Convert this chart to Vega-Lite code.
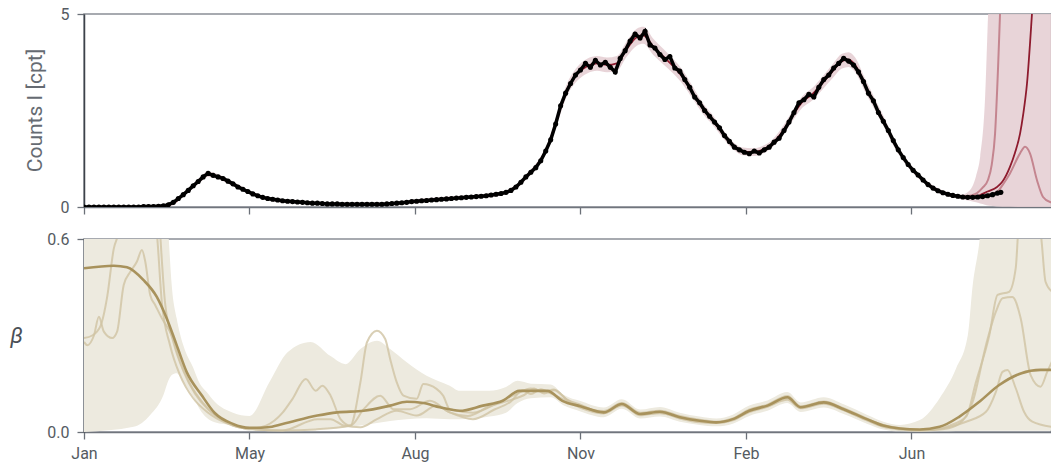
{
  "$schema": "https://vega.github.io/schema/vega-lite/v6.json",
  "background": "white",
  "padding": {"left": 8, "top": 5, "right": 0, "bottom": 5},
  "spacing": 14,
  "config": {
    "view": {"stroke": "#8a8f96", "strokeWidth": 1.5},
    "font": "Roboto",
    "axis": {
      "labelFont": "Roboto", "labelFontSize": 16, "labelColor": "#555b62",
      "titleFont": "Roboto", "titleFontSize": 21, "titleColor": "#666b72", "titleFontWeight": "normal",
      "tickColor": "#6b7078", "tickSize": 7, "tickWidth": 1.3, "labelPadding": 8,
      "domainColor": "#70757d", "domainWidth": 1.5, "grid": false
    }
  },
  "datasets": {
    "pts": [
      {"d":0,"c":0},{"d":3,"c":0},{"d":6,"c":0},{"d":9,"c":0},{"d":12,"c":0},{"d":15,"c":0},{"d":18,"c":0},{"d":21,"c":0},{"d":24,"c":0},{"d":27,"c":0},{"d":30,"c":0},{"d":33,"c":0},{"d":36,"c":0.01},{"d":39,"c":0.01},{"d":42,"c":0.01},{"d":45,"c":0.02},{"d":48,"c":0.03},{"d":51,"c":0.06},{"d":54,"c":0.12},{"d":57,"c":0.22},{"d":60,"c":0.32},{"d":63,"c":0.43},{"d":66,"c":0.55},{"d":69,"c":0.66},{"d":72,"c":0.78},{"d":75,"c":0.87},{"d":78,"c":0.82},{"d":81,"c":0.78},{"d":84,"c":0.74},{"d":87,"c":0.67},{"d":90,"c":0.6},{"d":93,"c":0.52},{"d":96,"c":0.46},{"d":99,"c":0.4},{"d":102,"c":0.34},{"d":105,"c":0.29},{"d":108,"c":0.25},{"d":111,"c":0.22},{"d":114,"c":0.2},{"d":117,"c":0.18},{"d":120,"c":0.16},{"d":123,"c":0.15},{"d":126,"c":0.14},{"d":129,"c":0.13},{"d":132,"c":0.12},{"d":135,"c":0.11},{"d":138,"c":0.1},{"d":141,"c":0.1},{"d":144,"c":0.09},{"d":147,"c":0.08},{"d":150,"c":0.08},{"d":153,"c":0.08},{"d":156,"c":0.07},{"d":159,"c":0.07},{"d":162,"c":0.07},{"d":165,"c":0.07},{"d":168,"c":0.07},{"d":171,"c":0.07},{"d":174,"c":0.07},{"d":177,"c":0.07},{"d":180,"c":0.07},{"d":183,"c":0.08},{"d":186,"c":0.09},{"d":189,"c":0.1},{"d":192,"c":0.11},{"d":195,"c":0.12},{"d":198,"c":0.14},{"d":201,"c":0.15},{"d":204,"c":0.16},{"d":207,"c":0.17},{"d":210,"c":0.18},{"d":213,"c":0.19},{"d":216,"c":0.2},{"d":219,"c":0.21},{"d":222,"c":0.22},{"d":225,"c":0.23},{"d":228,"c":0.24},{"d":231,"c":0.25},{"d":234,"c":0.26},{"d":237,"c":0.27},{"d":240,"c":0.28},{"d":243,"c":0.29},{"d":246,"c":0.31},{"d":249,"c":0.33},{"d":252,"c":0.35},{"d":255,"c":0.38},{"d":258,"c":0.43},{"d":261,"c":0.52},{"d":264,"c":0.64},{"d":267,"c":0.78},{"d":270,"c":0.9},{"d":273,"c":1.02},{"d":276,"c":1.2},{"d":279,"c":1.45},{"d":282,"c":1.74},{"d":285,"c":2.15},{"d":288,"c":2.62},{"d":291,"c":2.95},{"d":294,"c":3.2},{"d":297,"c":3.42},{"d":300,"c":3.55},{"d":303,"c":3.72},{"d":306,"c":3.62},{"d":309,"c":3.8},{"d":312,"c":3.68},{"d":315,"c":3.75},{"d":318,"c":3.62},{"d":321,"c":3.5},{"d":324,"c":3.85},{"d":327,"c":4.05},{"d":330,"c":4.3},{"d":333,"c":4.48},{"d":336,"c":4.38},{"d":339,"c":4.55},{"d":342,"c":4.2},{"d":345,"c":4.12},{"d":348,"c":3.95},{"d":351,"c":3.82},{"d":354,"c":3.9},{"d":357,"c":3.6},{"d":360,"c":3.52},{"d":363,"c":3.3},{"d":366,"c":3.1},{"d":369,"c":2.85},{"d":372,"c":2.7},{"d":375,"c":2.5},{"d":378,"c":2.35},{"d":381,"c":2.2},{"d":384,"c":2.05},{"d":387,"c":1.85},{"d":390,"c":1.7},{"d":393,"c":1.55},{"d":396,"c":1.48},{"d":399,"c":1.42},{"d":402,"c":1.38},{"d":405,"c":1.45},{"d":408,"c":1.4},{"d":411,"c":1.48},{"d":414,"c":1.55},{"d":417,"c":1.68},{"d":420,"c":1.78},{"d":423,"c":1.98},{"d":426,"c":2.2},{"d":429,"c":2.45},{"d":432,"c":2.7},{"d":435,"c":2.78},{"d":438,"c":2.92},{"d":441,"c":2.85},{"d":444,"c":3.1},{"d":447,"c":3.3},{"d":450,"c":3.42},{"d":453,"c":3.6},{"d":456,"c":3.72},{"d":459,"c":3.85},{"d":462,"c":3.78},{"d":465,"c":3.68},{"d":468,"c":3.5},{"d":471,"c":3.25},{"d":474,"c":2.95},{"d":477,"c":2.75},{"d":480,"c":2.45},{"d":483,"c":2.22},{"d":486,"c":1.98},{"d":489,"c":1.72},{"d":492,"c":1.48},{"d":495,"c":1.28},{"d":498,"c":1.1},{"d":501,"c":0.95},{"d":504,"c":0.83},{"d":507,"c":0.7},{"d":510,"c":0.58},{"d":513,"c":0.49},{"d":516,"c":0.42},{"d":519,"c":0.37},{"d":522,"c":0.33},{"d":525,"c":0.3},{"d":528,"c":0.28},{"d":531,"c":0.26},{"d":534,"c":0.25},{"d":537,"c":0.25},{"d":540,"c":0.26},{"d":543,"c":0.27},{"d":546,"c":0.29},{"d":549,"c":0.32},{"d":552,"c":0.36},{"d":554,"c":0.38}
    ],
    "fitband": [
      {"d":0,"lo":0,"hi":0.03},{"d":40,"lo":0,"hi":0.04},{"d":50,"lo":0,"hi":0.08},{"d":55,"lo":0.07,"hi":0.17},{"d":60,"lo":0.27,"hi":0.37},{"d":65,"lo":0.44,"hi":0.56},{"d":70,"lo":0.63,"hi":0.77},{"d":75,"lo":0.78,"hi":0.92},{"d":80,"lo":0.73,"hi":0.87},{"d":90,"lo":0.54,"hi":0.66},{"d":100,"lo":0.33,"hi":0.43},{"d":110,"lo":0.18,"hi":0.28},{"d":120,"lo":0.11,"hi":0.21},{"d":135,"lo":0.07,"hi":0.15},{"d":150,"lo":0.04,"hi":0.12},{"d":170,"lo":0.03,"hi":0.11},{"d":185,"lo":0.04,"hi":0.12},{"d":200,"lo":0.1,"hi":0.2},{"d":220,"lo":0.17,"hi":0.27},{"d":240,"lo":0.23,"hi":0.33},{"d":250,"lo":0.28,"hi":0.38},{"d":256,"lo":0.35,"hi":0.45},{"d":262,"lo":0.49,"hi":0.61},{"d":268,"lo":0.75,"hi":0.89},{"d":274,"lo":1.02,"hi":1.18},{"d":280,"lo":1.45,"hi":1.65},{"d":286,"lo":2.17,"hi":2.43},{"d":292,"lo":2.89,"hi":3.21},{"d":298,"lo":3.27,"hi":3.63},{"d":304,"lo":3.46,"hi":3.84},{"d":310,"lo":3.53,"hi":3.91},{"d":316,"lo":3.49,"hi":3.87},{"d":322,"lo":3.53,"hi":3.91},{"d":328,"lo":3.9,"hi":4.3},{"d":334,"lo":4.18,"hi":4.62},{"d":338,"lo":4.23,"hi":4.67},{"d":344,"lo":3.94,"hi":4.36},{"d":350,"lo":3.7,"hi":4.1},{"d":356,"lo":3.46,"hi":3.84},{"d":362,"lo":3.17,"hi":3.53},{"d":368,"lo":2.79,"hi":3.11},{"d":374,"lo":2.41,"hi":2.69},{"d":380,"lo":2.12,"hi":2.38},{"d":386,"lo":1.79,"hi":2.01},{"d":392,"lo":1.5,"hi":1.7},{"d":398,"lo":1.34,"hi":1.54},{"d":404,"lo":1.32,"hi":1.52},{"d":410,"lo":1.38,"hi":1.58},{"d":416,"lo":1.55,"hi":1.75},{"d":422,"lo":1.83,"hi":2.07},{"d":428,"lo":2.22,"hi":2.48},{"d":434,"lo":2.57,"hi":2.87},{"d":440,"lo":2.76,"hi":3.08},{"d":446,"lo":3.03,"hi":3.37},{"d":452,"lo":3.32,"hi":3.68},{"d":458,"lo":3.59,"hi":3.97},{"d":462,"lo":3.63,"hi":4.01},{"d":466,"lo":3.49,"hi":3.87},{"d":472,"lo":2.98,"hi":3.32},{"d":478,"lo":2.5,"hi":2.8},{"d":484,"lo":2.02,"hi":2.28},{"d":490,"lo":1.52,"hi":1.72},{"d":496,"lo":1.13,"hi":1.31},{"d":502,"lo":0.83,"hi":0.97},{"d":508,"lo":0.6,"hi":0.72},{"d":514,"lo":0.41,"hi":0.53},{"d":520,"lo":0.31,"hi":0.41},{"d":526,"lo":0.24,"hi":0.34},{"d":530,"lo":0.2,"hi":0.32},{"d":535,"lo":0.16,"hi":0.42},{"d":539,"lo":0.12,"hi":0.8},{"d":541.5,"lo":0.09,"hi":1.3},{"d":544.4,"lo":0.06,"hi":2.77},{"d":546.2,"lo":0.04,"hi":4.9},{"d":548,"lo":0.03,"hi":7},{"d":555,"lo":0.005,"hi":7},{"d":585,"lo":0,"hi":7}
    ],
    "fitline": [
      {"d":0,"v":0},{"d":40,"v":0.01},{"d":50,"v":0.04},{"d":55,"v":0.12},{"d":60,"v":0.32},{"d":65,"v":0.5},{"d":70,"v":0.7},{"d":75,"v":0.85},{"d":80,"v":0.8},{"d":90,"v":0.6},{"d":100,"v":0.38},{"d":110,"v":0.23},{"d":120,"v":0.16},{"d":135,"v":0.11},{"d":150,"v":0.08},{"d":170,"v":0.07},{"d":185,"v":0.08},{"d":200,"v":0.15},{"d":220,"v":0.22},{"d":240,"v":0.28},{"d":250,"v":0.33},{"d":256,"v":0.4},{"d":262,"v":0.55},{"d":268,"v":0.82},{"d":274,"v":1.1},{"d":280,"v":1.55},{"d":286,"v":2.3},{"d":292,"v":3.05},{"d":298,"v":3.45},{"d":304,"v":3.65},{"d":310,"v":3.72},{"d":316,"v":3.68},{"d":322,"v":3.72},{"d":328,"v":4.1},{"d":334,"v":4.4},{"d":338,"v":4.45},{"d":344,"v":4.15},{"d":350,"v":3.9},{"d":356,"v":3.65},{"d":362,"v":3.35},{"d":368,"v":2.95},{"d":374,"v":2.55},{"d":380,"v":2.25},{"d":386,"v":1.9},{"d":392,"v":1.6},{"d":398,"v":1.44},{"d":404,"v":1.42},{"d":410,"v":1.48},{"d":416,"v":1.65},{"d":422,"v":1.95},{"d":428,"v":2.35},{"d":434,"v":2.72},{"d":440,"v":2.92},{"d":446,"v":3.2},{"d":452,"v":3.5},{"d":458,"v":3.78},{"d":462,"v":3.82},{"d":466,"v":3.68},{"d":472,"v":3.15},{"d":478,"v":2.65},{"d":484,"v":2.15},{"d":490,"v":1.62},{"d":496,"v":1.22},{"d":502,"v":0.9},{"d":508,"v":0.66},{"d":514,"v":0.47},{"d":520,"v":0.36},{"d":526,"v":0.29},{"d":532,"v":0.26},{"d":538,"v":0.26},{"d":541.4,"v":0.31},{"d":546,"v":0.4},{"d":551.7,"v":0.52},{"d":555,"v":0.66},{"d":559.5,"v":1.04},{"d":562.5,"v":1.4},{"d":565.6,"v":1.9},{"d":567.5,"v":2.4},{"d":569.8,"v":3.2},{"d":572.8,"v":5},{"d":575,"v":6.5}
    ],
    "fitsamp": [
      {"s":"a","d":520,"v":0.36},{"s":"a","d":526,"v":0.29},{"s":"a","d":532,"v":0.27},{"s":"a","d":536,"v":0.3},{"s":"a","d":539.6,"v":0.36},{"s":"a","d":543,"v":0.5},{"s":"a","d":546.2,"v":0.7},{"s":"a","d":548.5,"v":1.1},{"s":"a","d":550.5,"v":1.9},{"s":"a","d":552.3,"v":3.6},{"s":"a","d":553.5,"v":5},{"s":"a","d":555,"v":7},
      {"s":"b","d":520,"v":0.36},{"s":"b","d":530,"v":0.27},{"s":"b","d":540,"v":0.27},{"s":"b","d":545,"v":0.3},{"s":"b","d":551.7,"v":0.39},{"s":"b","d":555.5,"v":0.6},{"s":"b","d":559.5,"v":0.87},{"s":"b","d":565.6,"v":1.39},{"s":"b","d":568.6,"v":1.56},{"s":"b","d":571.6,"v":1.39},{"s":"b","d":575.8,"v":0.7},{"s":"b","d":579.5,"v":0.26},{"s":"b","d":583.7,"v":0.13},{"s":"b","d":585,"v":0.12}
    ],
    "bband": [
      {"d":0,"lo":0,"hi":0.9},{"d":30,"lo":0.016,"hi":0.9},{"d":40,"lo":0.053,"hi":0.9},{"d":48,"lo":0.115,"hi":0.9},{"d":51,"lo":0.16,"hi":0.62},{"d":53,"lo":0.177,"hi":0.457},{"d":56,"lo":0.183,"hi":0.354},{"d":60,"lo":0.156,"hi":0.27},{"d":66,"lo":0.11,"hi":0.2},{"d":70,"lo":0.07,"hi":0.15},{"d":74,"lo":0.045,"hi":0.125},{"d":79,"lo":0.03,"hi":0.094},{"d":90,"lo":0.02,"hi":0.06},{"d":100,"lo":0.004,"hi":0.05},{"d":112,"lo":0.003,"hi":0.155},{"d":123,"lo":0.004,"hi":0.248},{"d":137,"lo":0.008,"hi":0.28},{"d":149,"lo":0.011,"hi":0.236},{"d":158,"lo":0.014,"hi":0.211},{"d":167,"lo":0.02,"hi":0.258},{"d":177,"lo":0.028,"hi":0.284},{"d":185,"lo":0.034,"hi":0.258},{"d":195,"lo":0.04,"hi":0.217},{"d":207,"lo":0.043,"hi":0.175},{"d":221,"lo":0.04,"hi":0.144},{"d":227,"lo":0.04,"hi":0.128},{"d":245,"lo":0.048,"hi":0.128},{"d":255,"lo":0.06,"hi":0.14},{"d":262,"lo":0.09,"hi":0.159},{"d":270,"lo":0.105,"hi":0.15},{"d":282,"lo":0.108,"hi":0.148},{"d":290,"lo":0.082,"hi":0.115},{"d":300,"lo":0.064,"hi":0.096},{"d":314,"lo":0.046,"hi":0.076},{"d":325,"lo":0.072,"hi":0.102},{"d":336,"lo":0.042,"hi":0.07},{"d":348,"lo":0.048,"hi":0.078},{"d":360,"lo":0.032,"hi":0.06},{"d":372,"lo":0.022,"hi":0.048},{"d":382,"lo":0.018,"hi":0.042},{"d":392,"lo":0.026,"hi":0.054},{"d":402,"lo":0.05,"hi":0.082},{"d":413,"lo":0.066,"hi":0.098},{"d":425,"lo":0.09,"hi":0.124},{"d":433,"lo":0.062,"hi":0.092},{"d":447,"lo":0.076,"hi":0.108},{"d":459,"lo":0.056,"hi":0.086},{"d":473,"lo":0.026,"hi":0.054},{"d":483,"lo":0.008,"hi":0.032},{"d":493,"lo":0.002,"hi":0.022},{"d":505,"lo":0.001,"hi":0.037},{"d":517,"lo":0.002,"hi":0.105},{"d":527,"lo":0.003,"hi":0.198},{"d":534,"lo":0.003,"hi":0.3},{"d":537,"lo":0.003,"hi":0.457},{"d":541,"lo":0.004,"hi":0.59},{"d":545,"lo":0.004,"hi":0.8},{"d":585,"lo":0.004,"hi":0.8}
    ],
    "bmain": [
      {"d":0,"v":0.509},{"d":18,"v":0.517},{"d":26,"v":0.512},{"d":36,"v":0.472},{"d":44,"v":0.42},{"d":50,"v":0.353},{"d":56,"v":0.27},{"d":62,"v":0.187},{"d":71,"v":0.115},{"d":79,"v":0.059},{"d":90,"v":0.025},{"d":100,"v":0.013},{"d":111,"v":0.015},{"d":120,"v":0.025},{"d":141,"v":0.051},{"d":153,"v":0.061},{"d":169,"v":0.066},{"d":185,"v":0.082},{"d":195,"v":0.094},{"d":205,"v":0.09},{"d":215,"v":0.077},{"d":227,"v":0.066},{"d":241,"v":0.082},{"d":253,"v":0.097},{"d":263,"v":0.128},{"d":280,"v":0.128},{"d":289,"v":0.097},{"d":300,"v":0.08},{"d":314,"v":0.061},{"d":325,"v":0.087},{"d":336,"v":0.056},{"d":348,"v":0.063},{"d":360,"v":0.046},{"d":372,"v":0.035},{"d":382,"v":0.03},{"d":392,"v":0.04},{"d":402,"v":0.066},{"d":413,"v":0.082},{"d":425,"v":0.108},{"d":433,"v":0.077},{"d":447,"v":0.092},{"d":459,"v":0.071},{"d":473,"v":0.04},{"d":483,"v":0.02},{"d":493,"v":0.011},{"d":505,"v":0.008},{"d":517,"v":0.016},{"d":529,"v":0.048},{"d":541,"v":0.094},{"d":553,"v":0.146},{"d":566,"v":0.182},{"d":578,"v":0.193},{"d":585,"v":0.193}
    ],
    "bsamp": [
      {"s":"1","d":0,"v":0.28},{"s":"1","d":2,"v":0.27},{"s":"1","d":6,"v":0.3},{"s":"1","d":9,"v":0.358},{"s":"1","d":12,"v":0.312},{"s":"1","d":17,"v":0.292},{"s":"1","d":20,"v":0.312},{"s":"1","d":24,"v":0.457},{"s":"1","d":28,"v":0.498},{"s":"1","d":32,"v":0.53},{"s":"1","d":35,"v":0.566},{"s":"1","d":37,"v":0.53},{"s":"1","d":40,"v":0.426},{"s":"1","d":43,"v":0.395},{"s":"1","d":47,"v":0.354},{"s":"1","d":53,"v":0.3},{"s":"1","d":58,"v":0.22},{"s":"1","d":64,"v":0.15},{"s":"1","d":72,"v":0.09},{"s":"1","d":80,"v":0.05},{"s":"1","d":90,"v":0.02},{"s":"1","d":100,"v":0.01},{"s":"1","d":120,"v":0.005},{"s":"1","d":140,"v":0.008},{"s":"1","d":161,"v":0.02},{"s":"1","d":167,"v":0.154},{"s":"1","d":171,"v":0.279},{"s":"1","d":177,"v":0.315},{"s":"1","d":182,"v":0.289},{"s":"1","d":185,"v":0.227},{"s":"1","d":189,"v":0.154},{"s":"1","d":193,"v":0.113},{"s":"1","d":201,"v":0.103},{"s":"1","d":205,"v":0.149},{"s":"1","d":213,"v":0.134},{"s":"1","d":217,"v":0.113},{"s":"1","d":221,"v":0.071},{"s":"1","d":235,"v":0.06},{"s":"1","d":250,"v":0.09},{"s":"1","d":262,"v":0.12},{"s":"1","d":270,"v":0.135},{"s":"1","d":278,"v":0.125},{"s":"1","d":284,"v":0.132},{"s":"1","d":292,"v":0.1},{"s":"1","d":300,"v":0.078},{"s":"1","d":314,"v":0.065},{"s":"1","d":325,"v":0.09},{"s":"1","d":336,"v":0.06},{"s":"1","d":348,"v":0.066},{"s":"1","d":360,"v":0.05},{"s":"1","d":372,"v":0.038},{"s":"1","d":382,"v":0.032},{"s":"1","d":392,"v":0.042},{"s":"1","d":402,"v":0.07},{"s":"1","d":413,"v":0.085},{"s":"1","d":425,"v":0.112},{"s":"1","d":433,"v":0.08},{"s":"1","d":447,"v":0.095},{"s":"1","d":459,"v":0.074},{"s":"1","d":473,"v":0.042},{"s":"1","d":483,"v":0.022},{"s":"1","d":493,"v":0.012},{"s":"1","d":505,"v":0.006},{"s":"1","d":517,"v":0.01},{"s":"1","d":523,"v":0.02},{"s":"1","d":533,"v":0.048},{"s":"1","d":539,"v":0.156},{"s":"1","d":547,"v":0.3},{"s":"1","d":552,"v":0.426},{"s":"1","d":559,"v":0.436},{"s":"1","d":563,"v":0.51},{"s":"1","d":565,"v":0.65},{"s":"1","d":572,"v":0.7},{"s":"1","d":578,"v":0.62},{"s":"1","d":581,"v":0.467},{"s":"1","d":585,"v":0.436},
      {"s":"2","d":0,"v":0.292},{"s":"2","d":5,"v":0.3},{"s":"2","d":10,"v":0.33},{"s":"2","d":14,"v":0.42},{"s":"2","d":18,"v":0.57},{"s":"2","d":21,"v":0.62},{"s":"2","d":25,"v":0.75},{"s":"2","d":40,"v":0.75},{"s":"2","d":44,"v":0.62},{"s":"2","d":47,"v":0.405},{"s":"2","d":52,"v":0.27},{"s":"2","d":58,"v":0.177},{"s":"2","d":66,"v":0.105},{"s":"2","d":75,"v":0.06},{"s":"2","d":85,"v":0.03},{"s":"2","d":100,"v":0.01},{"s":"2","d":110,"v":0.02},{"s":"2","d":120,"v":0.06},{"s":"2","d":126,"v":0.103},{"s":"2","d":134,"v":0.165},{"s":"2","d":140,"v":0.128},{"s":"2","d":144,"v":0.144},{"s":"2","d":149,"v":0.113},{"s":"2","d":155,"v":0.04},{"s":"2","d":161,"v":0.02},{"s":"2","d":169,"v":0.071},{"s":"2","d":179,"v":0.113},{"s":"2","d":187,"v":0.071},{"s":"2","d":197,"v":0.071},{"s":"2","d":209,"v":0.097},{"s":"2","d":221,"v":0.061},{"s":"2","d":232,"v":0.05},{"s":"2","d":245,"v":0.08},{"s":"2","d":258,"v":0.1},{"s":"2","d":266,"v":0.115},{"s":"2","d":272,"v":0.135},{"s":"2","d":278,"v":0.12},{"s":"2","d":284,"v":0.13},{"s":"2","d":292,"v":0.1},{"s":"2","d":300,"v":0.085},{"s":"2","d":314,"v":0.058},{"s":"2","d":325,"v":0.085},{"s":"2","d":336,"v":0.052},{"s":"2","d":348,"v":0.06},{"s":"2","d":360,"v":0.042},{"s":"2","d":372,"v":0.03},{"s":"2","d":382,"v":0.028},{"s":"2","d":392,"v":0.036},{"s":"2","d":402,"v":0.064},{"s":"2","d":413,"v":0.08},{"s":"2","d":425,"v":0.1},{"s":"2","d":433,"v":0.074},{"s":"2","d":447,"v":0.088},{"s":"2","d":459,"v":0.068},{"s":"2","d":473,"v":0.038},{"s":"2","d":483,"v":0.018},{"s":"2","d":493,"v":0.01},{"s":"2","d":505,"v":0.006},{"s":"2","d":517,"v":0.008},{"s":"2","d":527,"v":0.02},{"s":"2","d":537,"v":0.094},{"s":"2","d":545,"v":0.27},{"s":"2","d":551,"v":0.374},{"s":"2","d":555,"v":0.416},{"s":"2","d":561,"v":0.42},{"s":"2","d":566,"v":0.353},{"s":"2","d":572,"v":0.177},{"s":"2","d":578,"v":0.141},{"s":"2","d":582,"v":0.187},{"s":"2","d":585,"v":0.22},
      {"s":"3","d":0,"v":0.8},{"s":"3","d":44,"v":0.8},{"s":"3","d":46,"v":0.62},{"s":"3","d":49,"v":0.4},{"s":"3","d":54,"v":0.28},{"s":"3","d":60,"v":0.19},{"s":"3","d":67,"v":0.12},{"s":"3","d":75,"v":0.07},{"s":"3","d":85,"v":0.035},{"s":"3","d":100,"v":0.01},{"s":"3","d":120,"v":0.005},{"s":"3","d":141,"v":0.04},{"s":"3","d":149,"v":0.04},{"s":"3","d":157,"v":0.02},{"s":"3","d":167,"v":0.015},{"s":"3","d":177,"v":0.04},{"s":"3","d":189,"v":0.066},{"s":"3","d":201,"v":0.051},{"s":"3","d":213,"v":0.082},{"s":"3","d":221,"v":0.061},{"s":"3","d":235,"v":0.04},{"s":"3","d":248,"v":0.07},{"s":"3","d":258,"v":0.095},{"s":"3","d":265,"v":0.13},{"s":"3","d":270,"v":0.118},{"s":"3","d":276,"v":0.133},{"s":"3","d":282,"v":0.12},{"s":"3","d":292,"v":0.095},{"s":"3","d":300,"v":0.075},{"s":"3","d":314,"v":0.058},{"s":"3","d":325,"v":0.082},{"s":"3","d":336,"v":0.055},{"s":"3","d":348,"v":0.058},{"s":"3","d":360,"v":0.045},{"s":"3","d":372,"v":0.033},{"s":"3","d":382,"v":0.028},{"s":"3","d":392,"v":0.038},{"s":"3","d":402,"v":0.062},{"s":"3","d":413,"v":0.078},{"s":"3","d":425,"v":0.104},{"s":"3","d":433,"v":0.075},{"s":"3","d":447,"v":0.09},{"s":"3","d":459,"v":0.068},{"s":"3","d":473,"v":0.036},{"s":"3","d":483,"v":0.016},{"s":"3","d":493,"v":0.008},{"s":"3","d":505,"v":0.004},{"s":"3","d":523,"v":0.016},{"s":"3","d":533,"v":0.032},{"s":"3","d":545,"v":0.063},{"s":"3","d":551,"v":0.125},{"s":"3","d":555,"v":0.187},{"s":"3","d":558,"v":0.193},{"s":"3","d":563,"v":0.136},{"s":"3","d":568,"v":0.063},{"s":"3","d":573,"v":0.032},{"s":"3","d":585,"v":0.016}
    ]
  },
  "vconcat": [
    {
      "width": 967,
      "height": 193,
      "encoding": {
        "x": {"field": "d", "type": "quantitative", "scale": {"domain": [0, 584.3], "nice": false, "zero": false},
              "axis": {"title": null, "labels": false, "values": [0, 100, 200, 300, 400, 500], "domainColor": "#70757d"}}
      },
      "layer": [
        {
          "data": {"name": "fitband"},
          "mark": {"type": "area", "interpolate": "monotone", "color": "#e6cfd4", "opacity": 0.9, "clip": true},
          "encoding": {
            "y": {"field": "lo", "type": "quantitative", "scale": {"domain": [0, 5], "nice": false},
                  "axis": {"title": "Counts I [cpt]", "values": [0, 5], "titleX": -39, "titleY": 96, "titleAlign": "center", "domainColor": "#3d424a", "titleFontSize": 21}},
            "y2": {"field": "hi"}
          }
        },
        {
          "data": {"name": "fitline"},
          "mark": {"type": "line", "interpolate": "monotone", "color": "#8e1b2e", "strokeWidth": 1.8, "clip": true},
          "encoding": {"y": {"field": "v", "type": "quantitative"}}
        },
        {
          "data": {"name": "fitsamp"},
          "mark": {"type": "line", "interpolate": "monotone", "color": "#c4858f", "strokeWidth": 2, "clip": true},
          "encoding": {"y": {"field": "v", "type": "quantitative"}, "detail": {"field": "s"}}
        },
        {
          "data": {"name": "pts"},
          "mark": {"type": "line", "color": "#000000", "strokeWidth": 3.5, "clip": true},
          "encoding": {"y": {"field": "c", "type": "quantitative"}}
        },
        {
          "data": {"name": "pts"},
          "mark": {"type": "circle", "color": "#000000", "size": 26, "opacity": 1, "clip": true},
          "encoding": {"y": {"field": "c", "type": "quantitative"}}
        }
      ]
    },
    {
      "width": 967,
      "height": 193,
      "encoding": {
        "x": {"field": "d", "type": "quantitative", "scale": {"domain": [0, 584.3], "nice": false, "zero": false},
              "axis": {"title": null, "values": [0, 100, 200, 300, 400, 500], "labelFlush": false, "labelExpr": "['Jan','May','Aug','Nov','Feb','Jun'][round(datum.value/100)]", "labelPadding": 6, "domainColor": "#70757d"}}
      },
      "layer": [
        {
          "data": {"name": "bband"},
          "mark": {"type": "area", "interpolate": "monotone", "color": "#edeadf", "opacity": 1, "clip": true},
          "encoding": {
            "y": {"field": "lo", "type": "quantitative", "scale": {"domain": [0, 0.6], "nice": false},
                  "axis": {"title": "β", "values": [0, 0.6], "format": ".1f", "titleAngle": 0, "titleFontStyle": "italic", "titleFontSize": 22, "titleColor": "#4a4f56", "titleX": -68, "titleY": 96, "titleAlign": "center", "titleBaseline": "middle", "domainColor": "#3d424a"}},
            "y2": {"field": "hi"}
          }
        },
        {
          "data": {"name": "bsamp"},
          "mark": {"type": "line", "interpolate": "monotone", "color": "#cfc3a2", "strokeWidth": 2, "opacity": 0.8, "clip": true},
          "encoding": {"y": {"field": "v", "type": "quantitative"}, "detail": {"field": "s"}}
        },
        {
          "data": {"name": "bmain"},
          "mark": {"type": "line", "interpolate": "monotone", "color": "#a8925c", "strokeWidth": 2.6, "clip": true},
          "encoding": {"y": {"field": "v", "type": "quantitative"}}
        }
      ]
    }
  ]
}
